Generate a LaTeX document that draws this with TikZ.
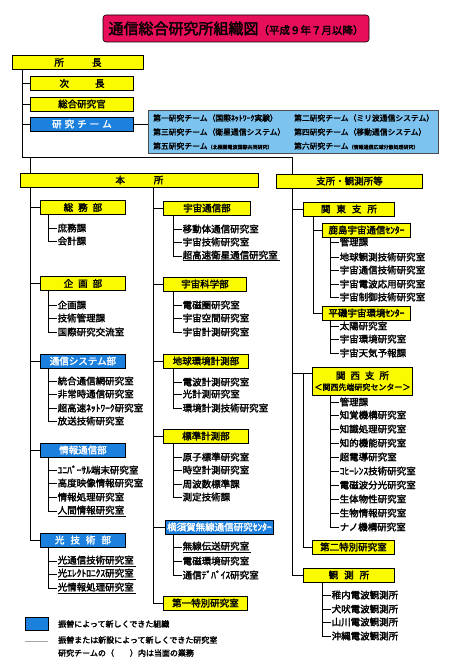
\documentclass[tikz,border=0pt]{standalone}
\usepackage{fontspec}
\setmainfont{Noto Sans CJK JP}[AutoFakeBold=2.2]
\usetikzlibrary{calc,shadows}
\definecolor{ylw}{RGB}{250,250,0}
\definecolor{blu}{RGB}{28,128,222}
\definecolor{lblu}{RGB}{125,195,240}
\definecolor{ttl}{RGB}{232,15,90}
\newcommand\ul[1]{\setbox0\hbox{#1}\rlap{\raisebox{-2.6pt}{\rule{\dimexpr\wd0+2pt\relax}{0.8pt}}}\box0}
\newcommand\mkbranch[5]{%
  \coordinate (#2t) at (#3,0);
  \foreach \itxt/\ity [count=\ii] in {#5}{
    \node[item] (#2\ii) at (#4,\ity) {\itxt};
    \draw[conn] (#2t |- #2\ii.west) -- (#2\ii.west);
    \draw[conn] (#1.south -| #2t) -- (#2t |- #2\ii.west);
  }%
}
\begin{document}
\begin{tikzpicture}[x=1pt,y=-1pt,
  conn/.style={line width=0.9pt},
  ybox/.style={draw, line width=0.9pt, fill=ylw, minimum height=14pt, inner sep=0pt, anchor=west,
    drop shadow={shadow xshift=0.9pt, shadow yshift=-0.9pt, fill=black, opacity=0.7},
    font=\bfseries\fontsize{9.5}{10}\selectfont},
  bbox/.style={ybox, fill=blu, text=white},
  item/.style={anchor=west, inner sep=0.5pt, font=\bfseries\fontsize{9.5}{10}\selectfont},
  tm/.style={anchor=west, inner sep=0pt, font=\bfseries\fontsize{7.8}{8}\selectfont},
  lg/.style={anchor=west, inner sep=0pt, font=\bfseries\fontsize{8}{9}\selectfont},
]
\fill[white] (0,0) rectangle (456,669);
\useasboundingbox (0,0) rectangle (456,669);

% title
\node[draw, line width=0.6pt, fill=ttl, rounded corners=3pt, minimum width=266pt, minimum height=27pt, inner sep=0pt] (title) at (236,28.5)
  {\bfseries{\fontsize{15}{15}\selectfont 通信総合研究所組織図}{\fontsize{10.5}{11}\selectfont （平成９年７月以降）}};

% top
\node[ybox, minimum width=131pt] (shocho) at (12,62.5) {所\hspace{28pt}長};
\node[ybox, minimum width=103pt] (jicho) at (30,83.5) {次\hspace{26pt}長};
\node[ybox, minimum width=103pt] (sogo) at (30,104) {総合研究官};
\node[bbox, minimum width=103pt] (kenkyu) at (30,124) {研\hspace{3pt}究\hspace{3pt}チ\hspace{3pt}ー\hspace{3pt}ム};
\node[draw=black!70, line width=0.6pt, fill=lblu, minimum width=290pt, minimum height=43pt, anchor=north west, inner sep=0pt] (teams) at (148,110) {};
\node[tm] (t1) at (153,118) {第一研究チーム（国際ﾈｯﾄﾜｰｸ実験）};
\node[tm] (t2) at (294,118) {第二研究チーム（ミリ波通信システム）};
\node[tm] (t3) at (153,132) {第三研究チーム（衛星通信システム）};
\node[tm] (t4) at (294,132) {第四研究チーム（移動通信システム）};
\node[tm] (t5) at (153,146) {第五研究チーム{\fontsize{5}{5}\selectfont （北極圏電波国際共同研究）}};
\node[tm] (t6) at (294,146) {第六研究チーム{\fontsize{5}{5}\selectfont （情報通信広域分散処理研究）}};
\draw[conn] (kenkyu.east) -- (kenkyu.east -| teams.west);

\coordinate (j1) at (22,157);
\coordinate (lt) at (30,0);
\coordinate (mt) at (153,0);
\coordinate (rt) at (292,0);
\draw[conn] (shocho.south -| j1) -- (j1);
\foreach \n in {jicho,sogo,kenkyu} \draw[conn] (\n.west -| j1) -- (\n.west);

\node[ybox, minimum width=238pt] (honsho) at (20,180) {本\hspace{29pt}所};
\node[ybox, minimum width=146pt] (shisho) at (276,181) {支所・観測所等};
\draw[conn] (j1) -| (honsho.north -| lt);
\draw[conn] (j1) -| (shisho.north -| rt);

% left column
\node[ybox, minimum width=85pt] (somu) at (40,207.5) {総\hspace{5pt}務\hspace{5pt}部};
\node[ybox, minimum width=85pt] (kikaku) at (40,283.5) {企\hspace{5pt}画\hspace{5pt}部};
\node[bbox, minimum width=85pt] (tsushin) at (40,361) {通信システム部};
\node[bbox, minimum width=85pt] (joho) at (40,450) {情報通信部};
\node[bbox, minimum width=85pt] (hikari) at (40,540) {光\hspace{6pt}技\hspace{6pt}術\hspace{6pt}部};
\draw[conn] (honsho.south -| lt) |- (hikari.west);
\foreach \n in {somu,kikaku,tsushin,joho} \draw[conn] (\n.west -| lt) -- (\n.west);
\mkbranch{somu}{sm}{48}{57}{庶務課/228, 会計課/241}
\mkbranch{kikaku}{kk}{48}{57}{企画課/305, 技術管理課/318, 国際研究交流室/332}
\mkbranch{tsushin}{ts}{48}{57}{統合通信網研究室/381, 非常時通信研究室/394, 超高速ﾈｯﾄﾜｰｸ研究室/408, 放送技術研究室/421}
\mkbranch{joho}{jh}{48}{57}{ﾕﾆﾊﾞｰｻﾙ端末研究室/470, 高度映像情報研究室/483, 情報処理研究室/497, {\ul{人間情報研究室}}/511}
\mkbranch{hikari}{hk}{48}{57}{{\ul{光通信技術研究室}}/561, {\ul{光ｴﾚｸﾄﾛﾆｸｽ研究室}}/574, {\ul{光情報処理研究室}}/588}

% middle column
\node[ybox, minimum width=87pt] (uchutsu) at (163,208) {宇宙通信部};
\node[ybox, minimum width=83pt] (uchuka) at (163,284) {宇宙科学部};
\node[ybox, minimum width=85pt] (chikyu) at (163,361) {地球環境計測部};
\node[ybox, minimum width=85pt] (hyojun) at (163,436) {標準計測部};
\node[bbox, minimum width=108pt] (yokosuka) at (165,527) {横須賀無線通信研究ｾﾝﾀｰ};
\node[ybox, minimum width=84pt] (toku1) at (163,603) {第一特別研究室};
\draw[conn] (honsho.south -| mt) |- (toku1.west);
\foreach \n in {uchutsu,uchuka,chikyu,hyojun,yokosuka} \draw[conn] (\n.west -| mt) -- (\n.west);
\mkbranch{uchutsu}{ut}{173}{182}{移動体通信研究室/229, 宇宙技術研究室/242, {\ul{超高速衛星通信研究室}}/256}
\mkbranch{uchuka}{uk}{173}{182}{電磁圏研究室/305, 宇宙空間研究室/318, 宇宙計測研究室/332}
\mkbranch{chikyu}{ck}{173}{182}{電波計測研究室/382, 光計測研究室/394, 環境計測技術研究室/408}
\mkbranch{hyojun}{hj}{173}{182}{原子標準研究室/457, 時空計測研究室/470, 周波数標準課/484, 測定技術課/497}
\mkbranch{yokosuka}{yk}{173}{182}{{\ul{無線伝送研究室}}/547, 電磁環境研究室/561, 通信ﾃﾞﾊﾞｲｽ研究室/575}

% right column
\node[ybox, minimum width=91pt] (kanto) at (303,209) {関\hspace{6pt}東\hspace{6pt}支\hspace{6pt}所};
\node[ybox, minimum width=88pt] (kashima) at (322,230) {鹿島宇宙通信ｾﾝﾀｰ};
\node[ybox, minimum width=88pt] (hiraiso) at (322,313) {平磯宇宙環境ｾﾝﾀｰ};
\node[ybox, minimum width=100pt, minimum height=28pt, align=center] (kansai) at (312,381)
  {関\hspace{5pt}西\hspace{5pt}支\hspace{5pt}所\\[1pt]{\fontsize{8}{9}\selectfont ＜関西先端研究センター＞}};
\node[ybox, minimum width=82pt] (toku2) at (312,547) {第二特別研究室};
\node[ybox, minimum width=91pt] (kansoku) at (303,575) {観\hspace{6pt}測\hspace{6pt}所};
\draw[conn] (shisho.south -| rt) |- (kansoku.west);
\draw[conn] (kanto.west -| rt) -- (kanto.west);
\coordinate (kt) at (313,0);
\draw[conn] (kanto.south -| kt) |- (hiraiso.west);
\draw[conn] (kashima.west -| kt) -- (kashima.west);
\mkbranch{kashima}{ks}{330}{339}{管理課/242, 地球観測技術研究室/257, 宇宙通信技術研究室/270, 宇宙電波応用研究室/284, 宇宙制御技術研究室/297}
\mkbranch{hiraiso}{hr}{330}{339}{太陽研究室/326, 宇宙環境研究室/339, 宇宙天気予報課/353}
\coordinate (kj) at (303,373);
\draw[conn] (rt |- kj) -- (kansai.west |- kj);
\draw[conn] (kj) |- (toku2.west);
\mkbranch{kansai}{kn}{330}{339}{管理課/402, 知覚機構研究室/415, 知識処理研究室/429, 知的機能研究室/443, 超電導研究室/457, ｺﾋｰﾚﾝｽ技術研究室/471, 電磁波分光研究室/485, 生体物性研究室/499, 生物情報研究室/513, ナノ機構研究室/527}
\mkbranch{kansoku}{ko}{322}{331}{稚内電波観測所/595, 犬吠電波観測所/609, 山川電波観測所/622, 沖縄電波観測所/636}

% legend
\fill[blu, draw=black, line width=0.5pt] (25,617) rectangle (48,630);
\draw[black!35, line width=1pt] (25,641) -- (48,641);
\node[lg] (lg1) at (58,624) {振替によって新しくできた組織};
\node[lg] (lg2) at (58,640) {振替または新設によって新しくできた研究室};
\node[lg] (lg3) at (58,653) {研究チームの（　　）内は当面の業務};
\end{tikzpicture}
\end{document}
